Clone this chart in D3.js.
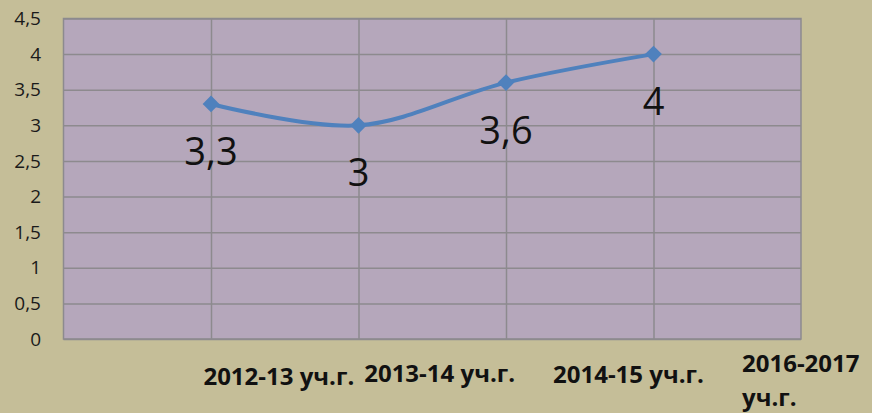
<!DOCTYPE html>
<html>
  <head>
    <script src="https://d3js.org/d3.v7.min.js"></script>
    <style>
      body { margin: 0; background: #c5be98; }
      svg { display: block; font-family: "Open Sans", sans-serif; }
    </style>
  </head>
  <body>
    <svg id="chart" width="872" height="413"></svg>
    <script>
      // values
      const years = ["2012-13 уч.г.", "2013-14 уч.г.", "2014-15 уч.г.", "2016-2017 уч.г."];
      const scores = [3.3, 3, 3.6, 4];
      const pointSlots = [1, 2, 3, 4];
      const yTicks = [0, 0.5, 1, 1.5, 2, 2.5, 3, 3.5, 4, 4.5];

      // where each category label sits (in category units) - the labels are shifted in the original
      const labelAt = [1.46, 2.55, 3.83, 4.6];
      const labelBase = [385, 382, 383, 372];

      const svg = d3.select("#chart");
      const plot = {left: 63.5, right: 801, top: 18.5, bottom: 339};

      const x = d3.scaleLinear().domain([0, 5]).range([plot.left, plot.right]);
      const y = d3.scaleLinear().domain([0, 4.5]).range([plot.bottom, plot.top]);

      svg.append("rect")
        .attr("x", plot.left)
        .attr("y", plot.top)
        .attr("width", plot.right - plot.left)
        .attr("height", plot.bottom - plot.top)
        .attr("fill", "#b5a7bb")
        .attr("stroke", "#8d8a8e")
        .attr("stroke-width", 1.5);

      // horizontal gridlines
      svg.append("g")
        .attr("transform", `translate(${plot.left},0)`)
        .call(d3.axisLeft(y).tickValues(yTicks).tickSize(-(plot.right - plot.left)).tickFormat(""))
        .call(g => g.select(".domain").remove())
        .call(g => g.selectAll("line").attr("stroke", "#8d8a8e").attr("stroke-width", 1.5));

      // vertical gridlines
      svg.append("g")
        .attr("transform", `translate(0,${plot.bottom})`)
        .call(d3.axisBottom(x).tickValues(pointSlots).tickSize(-(plot.bottom - plot.top)).tickFormat(""))
        .call(g => g.select(".domain").remove())
        .call(g => g.selectAll("line").attr("stroke", "#8d8a8e").attr("stroke-width", 1.5));

      // y tick labels
      svg.append("g")
        .selectAll("text")
        .data(yTicks)
        .join("text")
        .attr("x", 41)
        .attr("y", d => y(d))
        .attr("dy", "0.35em")
        .attr("text-anchor", "end")
        .attr("font-size", 19)
        .attr("fill", "#1a1a1a")
        .text(d => String(d).replace(".", ","));

      // category labels (bold, the last one wraps)
      svg.append("g")
        .selectAll("text")
        .data(years)
        .join("text")
        .attr("font-size", 24)
        .attr("font-weight", "bold")
        .attr("fill", "#111")
        .attr("text-anchor", (d, i) => i == years.length - 1 ? "start" : "middle")
        .each(function(d, i) {
          const t = d3.select(this);
          if (i == years.length - 1) {
            const parts = d.split(" ");
            t.append("tspan").attr("x", x(labelAt[i])).attr("y", labelBase[i]).text(parts[0]);
            t.append("tspan").attr("x", x(labelAt[i])).attr("y", labelBase[i] + 34).text(parts.slice(1).join(" "));
          } else {
            t.attr("x", x(labelAt[i])).attr("y", labelBase[i]).text(d);
          }
        });

      const line = d3.line()
        .x((d, i) => x(pointSlots[i]))
        .y(d => y(d))
        .curve(d3.curveCatmullRom.alpha(0.5));

      svg.append("path")
        .datum(scores)
        .attr("d", line)
        .attr("fill", "none")
        .attr("stroke", "#4f81bd")
        .attr("stroke-width", 4)
        .attr("stroke-linecap", "round");

      svg.append("g")
        .selectAll("path")
        .data(scores)
        .join("path")
        .attr("d", d3.symbol(d3.symbolSquare, 140))
        .attr("transform", (d, i) => `translate(${x(pointSlots[i])},${y(d)}) rotate(45)`)
        .attr("fill", "#4f81bd");

      // data labels under the points
      svg.append("g")
        .selectAll("text")
        .data(scores)
        .join("text")
        .attr("x", (d, i) => x(pointSlots[i]))
        .attr("y", d => y(d) + 61)
        .attr("text-anchor", "middle")
        .attr("font-size", 38)
        .attr("fill", "#111")
        .text(d => String(d).replace(".", ","));
    </script>
  </body>
</html>
